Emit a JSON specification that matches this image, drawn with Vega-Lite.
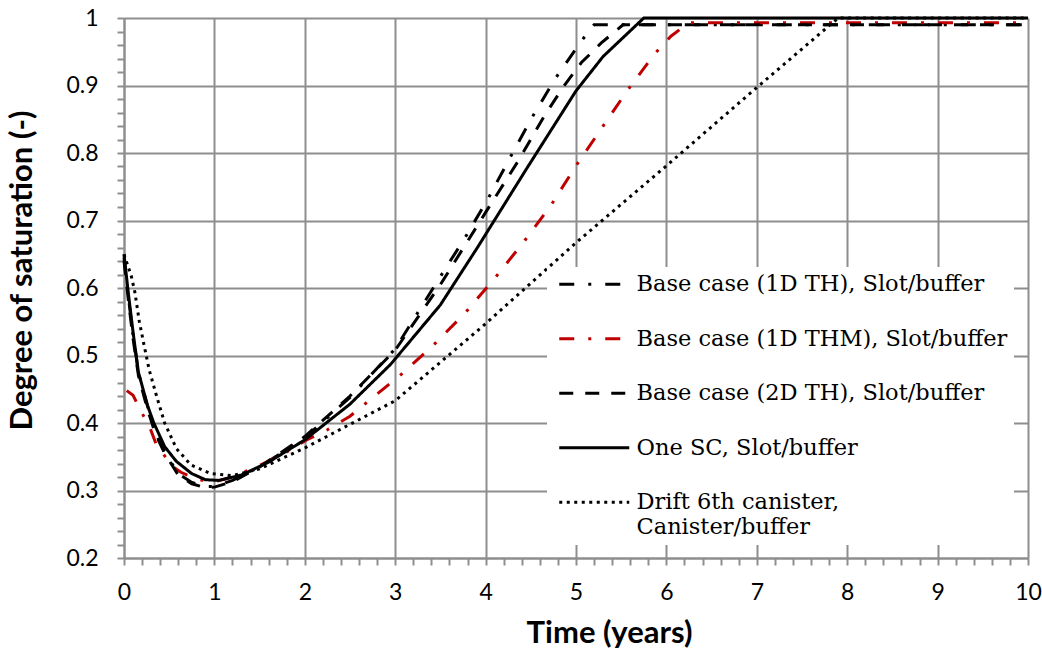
{
  "$schema": "https://vega.github.io/schema/vega-lite/v6.json",
  "width": 904,
  "height": 540,
  "autosize": {"type": "none"},
  "padding": {"left": 124, "top": 18, "right": 14, "bottom": 90},
  "background": "white",
  "config": {"view": {"stroke": null}},
  "data": {"values": [
    {"s": "Base case (1D TH), Slot/buffer", "t": 0, "v": 0.645},
    {"s": "Base case (1D TH), Slot/buffer", "t": 0.05, "v": 0.585},
    {"s": "Base case (1D TH), Slot/buffer", "t": 0.1, "v": 0.53},
    {"s": "Base case (1D TH), Slot/buffer", "t": 0.16, "v": 0.475},
    {"s": "Base case (1D TH), Slot/buffer", "t": 0.26, "v": 0.425},
    {"s": "Base case (1D TH), Slot/buffer", "t": 0.35, "v": 0.385},
    {"s": "Base case (1D TH), Slot/buffer", "t": 0.45, "v": 0.357},
    {"s": "Base case (1D TH), Slot/buffer", "t": 0.6, "v": 0.325},
    {"s": "Base case (1D TH), Slot/buffer", "t": 0.75, "v": 0.312},
    {"s": "Base case (1D TH), Slot/buffer", "t": 0.9, "v": 0.306},
    {"s": "Base case (1D TH), Slot/buffer", "t": 1.0, "v": 0.306},
    {"s": "Base case (1D TH), Slot/buffer", "t": 1.2, "v": 0.315},
    {"s": "Base case (1D TH), Slot/buffer", "t": 1.5, "v": 0.335},
    {"s": "Base case (1D TH), Slot/buffer", "t": 2.0, "v": 0.378},
    {"s": "Base case (1D TH), Slot/buffer", "t": 2.5, "v": 0.438},
    {"s": "Base case (1D TH), Slot/buffer", "t": 3.0, "v": 0.51},
    {"s": "Base case (1D TH), Slot/buffer", "t": 3.5, "v": 0.617},
    {"s": "Base case (1D TH), Slot/buffer", "t": 3.77, "v": 0.674},
    {"s": "Base case (1D TH), Slot/buffer", "t": 4.03, "v": 0.733},
    {"s": "Base case (1D TH), Slot/buffer", "t": 4.27, "v": 0.793},
    {"s": "Base case (1D TH), Slot/buffer", "t": 4.51, "v": 0.852},
    {"s": "Base case (1D TH), Slot/buffer", "t": 4.77, "v": 0.91},
    {"s": "Base case (1D TH), Slot/buffer", "t": 5.06, "v": 0.966},
    {"s": "Base case (1D TH), Slot/buffer", "t": 5.2, "v": 0.99},
    {"s": "Base case (1D TH), Slot/buffer", "t": 10, "v": 0.99},
    {"s": "Base case (1D THM), Slot/buffer", "t": 0.03, "v": 0.448},
    {"s": "Base case (1D THM), Slot/buffer", "t": 0.1, "v": 0.441},
    {"s": "Base case (1D THM), Slot/buffer", "t": 0.19, "v": 0.417},
    {"s": "Base case (1D THM), Slot/buffer", "t": 0.29, "v": 0.392},
    {"s": "Base case (1D THM), Slot/buffer", "t": 0.36, "v": 0.367},
    {"s": "Base case (1D THM), Slot/buffer", "t": 0.43, "v": 0.355},
    {"s": "Base case (1D THM), Slot/buffer", "t": 0.54, "v": 0.335},
    {"s": "Base case (1D THM), Slot/buffer", "t": 0.63, "v": 0.327},
    {"s": "Base case (1D THM), Slot/buffer", "t": 0.82, "v": 0.316},
    {"s": "Base case (1D THM), Slot/buffer", "t": 1.0, "v": 0.313},
    {"s": "Base case (1D THM), Slot/buffer", "t": 1.2, "v": 0.32},
    {"s": "Base case (1D THM), Slot/buffer", "t": 1.5, "v": 0.337},
    {"s": "Base case (1D THM), Slot/buffer", "t": 1.8, "v": 0.357},
    {"s": "Base case (1D THM), Slot/buffer", "t": 2.02, "v": 0.375},
    {"s": "Base case (1D THM), Slot/buffer", "t": 2.25, "v": 0.39},
    {"s": "Base case (1D THM), Slot/buffer", "t": 2.5, "v": 0.41},
    {"s": "Base case (1D THM), Slot/buffer", "t": 2.8, "v": 0.443},
    {"s": "Base case (1D THM), Slot/buffer", "t": 3.05, "v": 0.47},
    {"s": "Base case (1D THM), Slot/buffer", "t": 3.42, "v": 0.515},
    {"s": "Base case (1D THM), Slot/buffer", "t": 3.78, "v": 0.564},
    {"s": "Base case (1D THM), Slot/buffer", "t": 4.11, "v": 0.616},
    {"s": "Base case (1D THM), Slot/buffer", "t": 4.42, "v": 0.668},
    {"s": "Base case (1D THM), Slot/buffer", "t": 4.73, "v": 0.724},
    {"s": "Base case (1D THM), Slot/buffer", "t": 5.0, "v": 0.781},
    {"s": "Base case (1D THM), Slot/buffer", "t": 5.57, "v": 0.893},
    {"s": "Base case (1D THM), Slot/buffer", "t": 5.87, "v": 0.947},
    {"s": "Base case (1D THM), Slot/buffer", "t": 6.05, "v": 0.973},
    {"s": "Base case (1D THM), Slot/buffer", "t": 6.25, "v": 0.993},
    {"s": "Base case (1D THM), Slot/buffer", "t": 10, "v": 0.993},
    {"s": "Base case (2D TH), Slot/buffer", "t": 0, "v": 0.64},
    {"s": "Base case (2D TH), Slot/buffer", "t": 0.05, "v": 0.58},
    {"s": "Base case (2D TH), Slot/buffer", "t": 0.1, "v": 0.525},
    {"s": "Base case (2D TH), Slot/buffer", "t": 0.16, "v": 0.47},
    {"s": "Base case (2D TH), Slot/buffer", "t": 0.26, "v": 0.42},
    {"s": "Base case (2D TH), Slot/buffer", "t": 0.35, "v": 0.383},
    {"s": "Base case (2D TH), Slot/buffer", "t": 0.45, "v": 0.355},
    {"s": "Base case (2D TH), Slot/buffer", "t": 0.6, "v": 0.323},
    {"s": "Base case (2D TH), Slot/buffer", "t": 0.75, "v": 0.31},
    {"s": "Base case (2D TH), Slot/buffer", "t": 0.9, "v": 0.304},
    {"s": "Base case (2D TH), Slot/buffer", "t": 1.0, "v": 0.305},
    {"s": "Base case (2D TH), Slot/buffer", "t": 1.2, "v": 0.313},
    {"s": "Base case (2D TH), Slot/buffer", "t": 1.5, "v": 0.335},
    {"s": "Base case (2D TH), Slot/buffer", "t": 2.0, "v": 0.38},
    {"s": "Base case (2D TH), Slot/buffer", "t": 2.5, "v": 0.44},
    {"s": "Base case (2D TH), Slot/buffer", "t": 3.0, "v": 0.508},
    {"s": "Base case (2D TH), Slot/buffer", "t": 3.5, "v": 0.605},
    {"s": "Base case (2D TH), Slot/buffer", "t": 4.0, "v": 0.712},
    {"s": "Base case (2D TH), Slot/buffer", "t": 4.36, "v": 0.788},
    {"s": "Base case (2D TH), Slot/buffer", "t": 4.65, "v": 0.855},
    {"s": "Base case (2D TH), Slot/buffer", "t": 4.87, "v": 0.9},
    {"s": "Base case (2D TH), Slot/buffer", "t": 5.06, "v": 0.934},
    {"s": "Base case (2D TH), Slot/buffer", "t": 5.28, "v": 0.963},
    {"s": "Base case (2D TH), Slot/buffer", "t": 5.52, "v": 0.99},
    {"s": "Base case (2D TH), Slot/buffer", "t": 10, "v": 0.99},
    {"s": "One SC, Slot/buffer", "t": 0, "v": 0.65},
    {"s": "One SC, Slot/buffer", "t": 0.05, "v": 0.59},
    {"s": "One SC, Slot/buffer", "t": 0.1, "v": 0.535},
    {"s": "One SC, Slot/buffer", "t": 0.16, "v": 0.475},
    {"s": "One SC, Slot/buffer", "t": 0.26, "v": 0.426},
    {"s": "One SC, Slot/buffer", "t": 0.33, "v": 0.4},
    {"s": "One SC, Slot/buffer", "t": 0.45, "v": 0.365},
    {"s": "One SC, Slot/buffer", "t": 0.58, "v": 0.343},
    {"s": "One SC, Slot/buffer", "t": 0.75, "v": 0.325},
    {"s": "One SC, Slot/buffer", "t": 0.9, "v": 0.316},
    {"s": "One SC, Slot/buffer", "t": 1.05, "v": 0.315},
    {"s": "One SC, Slot/buffer", "t": 1.3, "v": 0.323},
    {"s": "One SC, Slot/buffer", "t": 1.6, "v": 0.342},
    {"s": "One SC, Slot/buffer", "t": 2.0, "v": 0.375},
    {"s": "One SC, Slot/buffer", "t": 2.5, "v": 0.428},
    {"s": "One SC, Slot/buffer", "t": 2.95, "v": 0.487},
    {"s": "One SC, Slot/buffer", "t": 3.5, "v": 0.575},
    {"s": "One SC, Slot/buffer", "t": 3.91, "v": 0.66},
    {"s": "One SC, Slot/buffer", "t": 4.45, "v": 0.776},
    {"s": "One SC, Slot/buffer", "t": 5.0, "v": 0.892},
    {"s": "One SC, Slot/buffer", "t": 5.3, "v": 0.943},
    {"s": "One SC, Slot/buffer", "t": 5.75, "v": 1.0},
    {"s": "One SC, Slot/buffer", "t": 10, "v": 1.0},
    {"s": "Drift 6th canister, Canister/buffer", "t": 0, "v": 0.65},
    {"s": "Drift 6th canister, Canister/buffer", "t": 0.08, "v": 0.618},
    {"s": "Drift 6th canister, Canister/buffer", "t": 0.12, "v": 0.594},
    {"s": "Drift 6th canister, Canister/buffer", "t": 0.17, "v": 0.55},
    {"s": "Drift 6th canister, Canister/buffer", "t": 0.23, "v": 0.51},
    {"s": "Drift 6th canister, Canister/buffer", "t": 0.28, "v": 0.478},
    {"s": "Drift 6th canister, Canister/buffer", "t": 0.36, "v": 0.44},
    {"s": "Drift 6th canister, Canister/buffer", "t": 0.45, "v": 0.4},
    {"s": "Drift 6th canister, Canister/buffer", "t": 0.58, "v": 0.362},
    {"s": "Drift 6th canister, Canister/buffer", "t": 0.74, "v": 0.338},
    {"s": "Drift 6th canister, Canister/buffer", "t": 0.96, "v": 0.325},
    {"s": "Drift 6th canister, Canister/buffer", "t": 1.2, "v": 0.322},
    {"s": "Drift 6th canister, Canister/buffer", "t": 1.5, "v": 0.332},
    {"s": "Drift 6th canister, Canister/buffer", "t": 2.0, "v": 0.363},
    {"s": "Drift 6th canister, Canister/buffer", "t": 2.5, "v": 0.398},
    {"s": "Drift 6th canister, Canister/buffer", "t": 3.0, "v": 0.433},
    {"s": "Drift 6th canister, Canister/buffer", "t": 3.5, "v": 0.49},
    {"s": "Drift 6th canister, Canister/buffer", "t": 4.0, "v": 0.547},
    {"s": "Drift 6th canister, Canister/buffer", "t": 5.0, "v": 0.667},
    {"s": "Drift 6th canister, Canister/buffer", "t": 6.0, "v": 0.781},
    {"s": "Drift 6th canister, Canister/buffer", "t": 7.0, "v": 0.897},
    {"s": "Drift 6th canister, Canister/buffer", "t": 7.9, "v": 1.0},
    {"s": "Drift 6th canister, Canister/buffer", "t": 10, "v": 1.0}
  ]},
  "mark": {"type": "line", "strokeWidth": 3, "clip": false},
  "encoding": {
    "x": {
      "field": "t", "type": "quantitative",
      "scale": {"domain": [0, 10], "nice": false, "zero": false},
      "axis": {
        "title": "Time (years)",
        "values": [0,0.2,0.4,0.6,0.8,1,1.2,1.4,1.6,1.8,2,2.2,2.4,2.6,2.8,3,3.2,3.4,3.6,3.8,4,4.2,4.4,4.6,4.8,5,5.2,5.4,5.6,5.8,6,6.2,6.4,6.6,6.8,7,7.2,7.4,7.6,7.8,8,8.2,8.4,8.6,8.8,9,9.2,9.4,9.6,9.8,10],
        "labelExpr": "abs(datum.value - round(datum.value)) < 0.001 ? format(datum.value, 'd') : ''",
        "labelOverlap": false,
        "labelFont": "Lato", "labelFontSize": 23, "labelColor": "#000000", "labelPadding": 16,
        "labelFlush": false,
        "grid": true,
        "gridColor": "#8e8e8e", "gridWidth": 2,
        "gridOpacity": {"condition": {"test": "abs(datum.value - round(datum.value)) < 0.001", "value": 1}, "value": 0},
        "domainColor": "#8e8e8e", "domainWidth": 2,
        "tickColor": "#8e8e8e", "tickWidth": 2, "tickSize": 7,
        "titleFont": "Lato", "titleFontSize": 31, "titleFontWeight": "bold", "titleColor": "#000000",
        "titleX": 485, "titleY": 75, "titleBaseline": "middle", "titleAnchor": "middle"
      }
    },
    "y": {
      "field": "v", "type": "quantitative",
      "scale": {"domain": [0.2, 1], "nice": false, "zero": false},
      "axis": {
        "title": "Degree of saturation (-)",
        "values": [0.2,0.22,0.24,0.26,0.28,0.3,0.32,0.34,0.36,0.38,0.4,0.42,0.44,0.46,0.48,0.5,0.52,0.54,0.56,0.58,0.6,0.62,0.64,0.66,0.68,0.7,0.72,0.74,0.76,0.78,0.8,0.82,0.84,0.86,0.88,0.9,0.92,0.94,0.96,0.98,1],
        "labelExpr": "abs(datum.value*10 - round(datum.value*10)) < 0.001 ? (datum.value == 1 ? '1' : format(datum.value, '.1f')) : ''",
        "labelOverlap": false,
        "labelFont": "Lato", "labelFontSize": 23, "labelColor": "#000000", "labelPadding": 19,
        "labelFlush": false,
        "grid": true,
        "gridColor": "#8e8e8e", "gridWidth": 2,
        "gridOpacity": {"condition": {"test": "abs(datum.value*10 - round(datum.value*10)) < 0.001", "value": 1}, "value": 0},
        "domainColor": "#8e8e8e", "domainWidth": 2,
        "tickColor": "#8e8e8e", "tickWidth": 2, "tickSize": 7,
        "titleFont": "Lato", "titleFontSize": 31, "titleFontWeight": "bold", "titleColor": "#000000",
        "titleX": -102, "titleY": 252, "titleBaseline": "middle", "titleAnchor": "middle"
      }
    },
    "color": {
      "field": "s", "type": "nominal",
      "scale": {
        "domain": ["Base case (1D TH), Slot/buffer", "Base case (1D THM), Slot/buffer", "Base case (2D TH), Slot/buffer", "One SC, Slot/buffer", "Drift 6th canister, Canister/buffer"],
        "range": ["#000000", "#C00000", "#000000", "#000000", "#000000"]
      },
      "legend": {
        "title": null,
        "orient": "none", "legendX": 423, "legendY": 249,
        "fillColor": "white", "padding": 6,
        "symbolType": "M-7,0H7", "symbolSize": 100, "symbolStrokeWidth": 3, "symbolOffset": 30,
        "labelOffset": 31,
        "labelFont": "DejaVu Serif", "labelFontSize": 22.5, "labelColor": "#000000", "labelLimit": 1000,
        "labelExpr": "datum.label == 'Drift 6th canister, Canister/buffer' ? ['Drift 6th canister,', 'Canister/buffer'] : datum.label",
        "rowPadding": 31.5
      }
    },
    "strokeDash": {
      "field": "s", "type": "nominal",
      "scale": {
        "domain": ["Base case (1D TH), Slot/buffer", "Base case (1D THM), Slot/buffer", "Base case (2D TH), Slot/buffer", "One SC, Slot/buffer", "Drift 6th canister, Canister/buffer"],
        "range": [[15, 14, 3, 14], [15, 14, 3, 14], [14, 12], [1, 0], [3, 4.5]]
      },
      "legend": {
        "title": null,
        "orient": "none", "legendX": 423, "legendY": 249,
        "fillColor": "white", "padding": 6,
        "symbolType": "M-7,0H7", "symbolSize": 100, "symbolStrokeWidth": 3, "symbolOffset": 30,
        "labelOffset": 31,
        "labelFont": "DejaVu Serif", "labelFontSize": 22.5, "labelColor": "#000000", "labelLimit": 1000,
        "labelExpr": "datum.label == 'Drift 6th canister, Canister/buffer' ? ['Drift 6th canister,', 'Canister/buffer'] : datum.label",
        "rowPadding": 31.5
      }
    }
  }
}
